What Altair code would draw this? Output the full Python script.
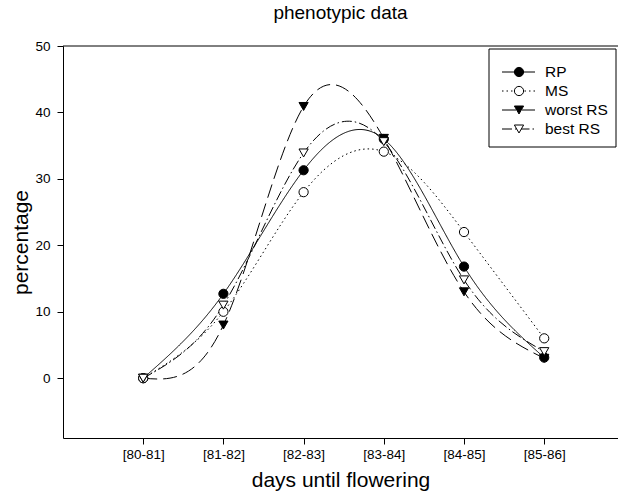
import json
import altair as alt
import pandas as pd

categories = ["[80-81]", "[81-82]", "[82-83]", "[83-84]", "[84-85]", "[85-86]"]
series_names = ["RP", "MS", "worst RS", "best RS"]
rp = [0, 12.7, 31.3, 36.0, 16.8, 3.1]
ms = [0, 10.0, 28.0, 34.1, 22.0, 6.0]
worst_rs = [0, 8.0, 40.9, 36.1, 13.0, 3.0]
best_rs = [0, 11.0, 33.9, 35.6, 14.8, 4.0]
y_ticks = [0, 10, 20, 30, 40, 50]

rows = []
for name, vals in zip(series_names, [rp, ms, worst_rs, best_rs]):
    for i, v in enumerate(vals):
        rows.append({"series": name, "idx": i, "value": v})
df = pd.DataFrame(rows)
legend_df = pd.DataFrame({"series": series_names, "pos": list(range(len(series_names)))})
one = pd.DataFrame({"a": [0]})

font = "Liberation Sans"
XMIN, XMAX = -1, 5.92

dash = alt.StrokeDash("series:N", scale=alt.Scale(domain=series_names,
                      range=[[1, 0], [1.5, 3], [14, 6], [10, 3, 1.5, 3]]), legend=None)
shape = alt.Shape("series:N", scale=alt.Scale(domain=series_names,
                  range=["circle", "circle", "triangle-down", "triangle-down"]), legend=None)
fill = alt.Fill("series:N", scale=alt.Scale(domain=series_names,
                range=["black", "white", "black", "white"]), legend=None)

x_enc = alt.X("idx:Q", scale=alt.Scale(domain=[XMIN, XMAX], nice=False, zero=False),
              axis=alt.Axis(values=list(range(len(categories))),
                            labelExpr=json.dumps(categories) + "[datum.value]",
                            labelPadding=3, titlePadding=9,
                            title="days until flowering"))
y_enc = alt.Y("value:Q", scale=alt.Scale(domain=[-9, 50], nice=False, zero=False),
              axis=alt.Axis(values=y_ticks, title="percentage", labelPadding=7,
                            titlePadding=3))

lines = alt.Chart(df).mark_line(interpolate="natural", color="black", strokeWidth=1).encode(
    x=x_enc, y=y_enc, strokeDash=dash, detail="series:N")
points = alt.Chart(df).mark_point(filled=True, stroke="black", strokeWidth=1, size=85, opacity=1).encode(
    x=x_enc, y=y_enc, shape=shape, fill=fill)

top_rule = alt.Chart(one).mark_rule(color="black", strokeWidth=1).encode(
    x=alt.datum(XMIN), x2=alt.datum(XMAX), y=alt.datum(50))

legend_box = alt.Chart(one).mark_rect(fill="white", stroke="black", strokeWidth=1).encode(
    x=alt.value(426), x2=alt.value(553), y=alt.value(3), y2=alt.value(101))

ly = alt.Y("ly:Q", scale=None, axis=None)
leg_base = alt.Chart(legend_df).transform_calculate(ly="26 + 19*datum.pos")
leg_lines = leg_base.mark_rule(color="black", strokeWidth=1).encode(
    x=alt.value(439), x2=alt.value(472), y=ly, strokeDash=dash)
leg_points = leg_base.mark_point(filled=True, stroke="black", strokeWidth=1, size=85, opacity=1).encode(
    x=alt.value(456), y=ly, shape=shape, fill=fill)
leg_text = leg_base.mark_text(align="left", baseline="middle", fontSize=15.5, font=font, color="black").encode(
    x=alt.value(482), y=ly, text="series:N")

chart = alt.layer(lines, points, top_rule, legend_box, leg_lines, leg_points, leg_text).properties(
    width=555, height=392, autosize="none",
    padding={"left": 63, "top": 46, "right": 0, "bottom": 59},
    title=alt.TitleParams("phenotypic data", fontSize=19, font=font, fontWeight="normal",
                          color="black", offset=16),
).configure_view(stroke=None).configure_axis(
    domainColor="black", tickColor="black", labelColor="black", titleColor="black",
    labelFont=font, titleFont=font, labelFontSize=13.5, titleFontSize=21,
    titleFontWeight="normal", grid=False, tickSize=6,
)

chart.save("out.html", embed_options={"renderer": "svg", "actions": False})
